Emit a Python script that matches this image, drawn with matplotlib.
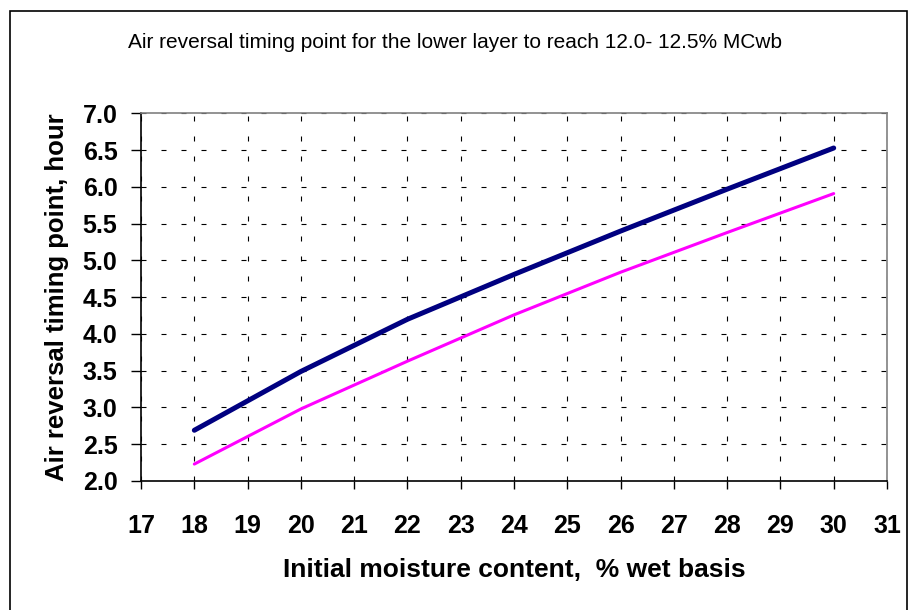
import matplotlib.pyplot as plt
from matplotlib.patches import Rectangle

plt.rcParams['font.family'] = ['Liberation Sans', 'DejaVu Sans']

moisture = [18, 20, 22, 24, 26, 28, 30]
upper_line = [2.69, 3.49, 4.20, 4.81, 5.40, 5.97, 6.53]
lower_line = [2.23, 2.98, 3.63, 4.26, 4.84, 5.38, 5.91]

fig = plt.figure(figsize=(9.1, 6.1), dpi=100)
ax = fig.add_axes([0.155, 0.2115, 0.8197, 0.6025])

ax.plot(moisture, upper_line, color='#000080', lw=3.6, solid_capstyle='round')
ax.plot(moisture, lower_line, color='#ff00ff', lw=2.2, solid_capstyle='round')

ax.set_xlim(17, 31)
ax.set_ylim(2.0, 7.0)
ax.set_xticks(range(17, 32))
ax.set_yticks([2.0 + 0.5 * i for i in range(11)])
ax.set_yticklabels(['%.1f' % (2.0 + 0.5 * i) for i in range(11)])

ax.grid(True, color='black', lw=0.8, linestyle=(0, (4.5, 13.5)))
ax.set_axisbelow(True)

for side in ['top', 'right']:
    ax.spines[side].set_color('#808080')
    ax.spines[side].set_linewidth(1.2)
for side in ['left', 'bottom']:
    ax.spines[side].set_color('black')
    ax.spines[side].set_linewidth(1.2)

ax.tick_params(axis='y', direction='out', length=7, width=1, pad=10, labelsize=18)
ax.tick_params(axis='x', direction='out', length=6, width=1, pad=18, labelsize=18)
for lab in ax.get_xticklabels() + ax.get_yticklabels():
    lab.set_fontweight('bold')

ax.set_xlabel('Initial moisture content,  % wet basis', fontsize=19,
              fontweight='bold', labelpad=14)
ax.set_ylabel('Air reversal timing point, hour', fontsize=18.5,
              fontweight='bold', labelpad=10)

fig.text(0.5, 0.931, 'Air reversal timing point for the lower layer to reach 12.0- 12.5% MCwb',
         ha='center', va='center', fontsize=15)

fig.patches.append(Rectangle((10 / 910, -0.05), 897 / 910, 1.05 - 11 / 610,
                             transform=fig.transFigure, fill=False,
                             edgecolor='black', lw=1.2))

fig.savefig('out.png', dpi=100)
